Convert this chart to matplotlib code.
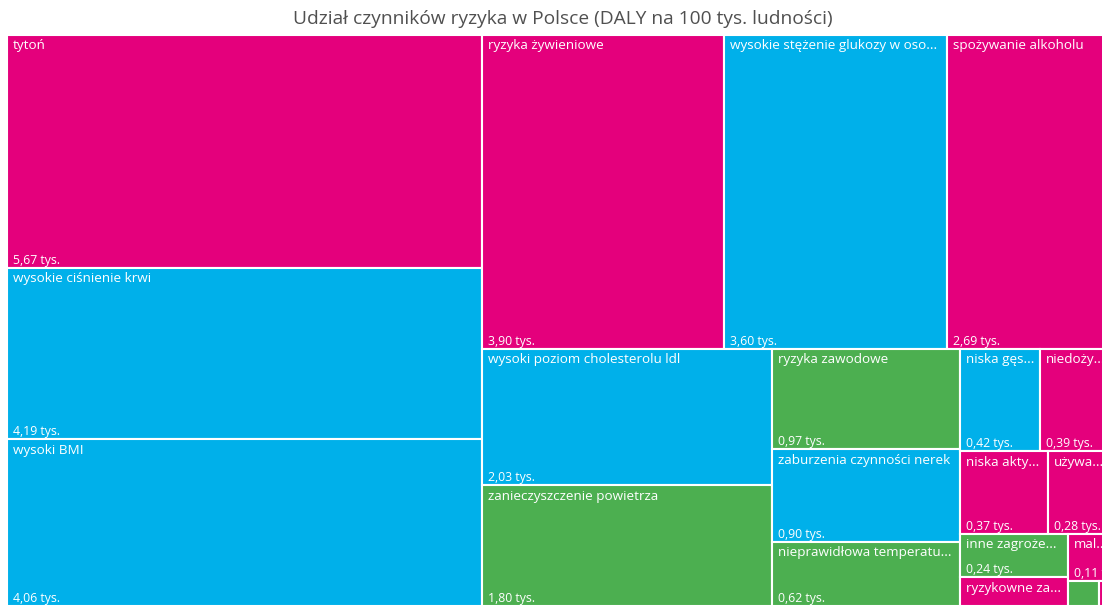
import matplotlib
matplotlib.use("Agg")
import matplotlib.pyplot as plt
from matplotlib.patches import Rectangle

# %%
# Risk factors, DALY per 100k (thousands)
names = ["tytoń", "wysokie ciśnienie krwi", "wysoki BMI",
         "ryzyka żywieniowe", "wysokie stężenie glukozy w osoczu na czczo",
         "spożywanie alkoholu", "wysoki poziom cholesterolu ldl",
         "zanieczyszczenie powietrza", "ryzyka zawodowe",
         "zaburzenia czynności nerek", "nieprawidłowa temperatura otoczenia",
         "niska gęstość mineralna kości", "niedożywienie dzieci i matek",
         "niska aktywność fizyczna", "używanie narkotyków",
         "inne zagrożenia środowiskowe", "ryzykowne zachowania seksualne",
         "maltretowanie dzieci", "niebezpieczna woda i kanalizacja",
         "przemoc ze strony partnera"]
values = [5.67, 4.19, 4.06, 3.90, 3.60, 2.69, 2.03, 1.80, 0.97, 0.90, 0.62,
          0.42, 0.39, 0.37, 0.28, 0.24, 0.16, 0.11, 0.04, 0.02]
groups = ["beh", "met", "met", "beh", "met", "beh", "met", "env", "env",
          "met", "env", "met", "beh", "beh", "beh", "env", "beh", "beh",
          "env", "beh"]
# number of items placed in each strip of the treemap
strips = [3, 3, 2, 3, 2, 2, 2, 1, 2]

colors = {"beh": "#E4007C", "met": "#00B0EA", "env": "#4CAF50"}


def treemap(vals, counts, x, y, w, h):
    rects = []
    total = sum(vals)
    i = 0
    for k, n in enumerate(counts):
        part = vals[i:i + n]
        s = sum(part)
        last = k == len(counts) - 1
        as_column = w > 1.2 * h
        if last:
            # last strip fills the rest, split along the longer side
            as_column = h > w
        if as_column:
            # column on the left
            cw = w * s / total
            yy = y
            for v in part:
                hh = h * v / s
                rects.append((x, yy, cw, hh))
                yy += hh
            x += cw
            w -= cw
        else:
            # row on top
            rh = h * s / total
            xx = x
            for v in part:
                ww = w * v / s
                rects.append((xx, y, ww, rh))
                xx += ww
            y += rh
            h -= rh
        total -= s
        i += n
    return rects


# %%
W, H = 1107, 571
fig = plt.figure(figsize=(11.02, 6.06), dpi=100)
ax = fig.add_axes([7 / 1102, 0, W / 1102, H / 606])
ax.set_xlim(0, W)
ax.set_ylim(H, 0)
ax.axis("off")

fig.text(563 / 1102, 1 - 19 / 606, "Udział czynników ryzyka w Polsce (DALY na 100 tys. ludności)",
         ha="center", va="center", fontsize=13.8, color="#505050",
         family=["Open Sans", "DejaVu Sans"])

renderer = fig.canvas.get_renderer()
rects = treemap(values, strips, 0, 0, W, H)

for (x, y, w, h), name, val, g in zip(rects, names, values, groups):
    ax.add_patch(Rectangle((x, y), w, h, facecolor=colors[g],
                           edgecolor="white", linewidth=1.5))
    if w < 40 or h < 20:
        continue
    t = ax.text(x + 6, y + 4.5, name, ha="left", va="top", fontsize=9.7,
                color="white", family=["Open Sans", "DejaVu Sans"])
    label = name
    while t.get_window_extent(renderer).width > w - 10 and len(label) > 1:
        label = label[:-1]
        t.set_text(label.rstrip() + "...")
    if h >= 40:
        txt = f"{val:.2f}".replace(".", ",") + " tys."
        ax.text(x + 6, y + h - 1, txt, ha="left", va="bottom", fontsize=8.8,
                color="white", family=["Open Sans", "DejaVu Sans"])

fig.savefig("out.png", dpi=100)
